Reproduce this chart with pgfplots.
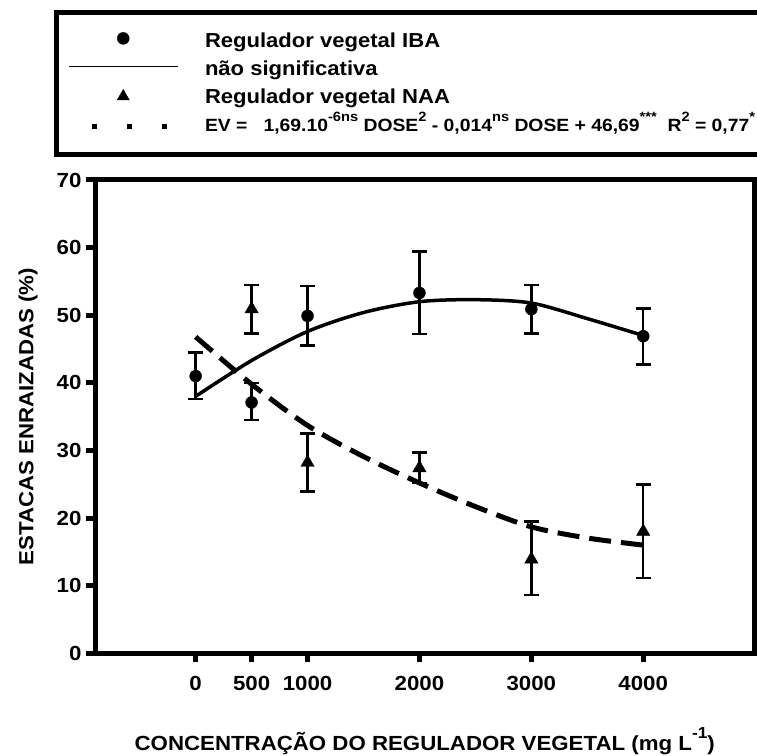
\documentclass[border=0pt]{standalone}
\usepackage{fontspec}
\setmainfont{Liberation Sans}[FakeStretch=1.09]
\usepackage{pgfplots}
\pgfplotsset{compat=1.18}
\newcommand{\sups}[1]{\raisebox{0.55em}{\fontsize{13.5}{13.5}\selectfont #1}}
\begin{document}
\begin{tikzpicture}[x=1bp,y=1bp]
\begin{axis}[
  at={(95.5bp,102.7bp)}, anchor=south west,
  scale only axis, width=658.5bp, height=473.3bp,
  xmin=-895, xmax=4990, ymin=0, ymax=70,
  xtick={0,500,1000,2000,3000,4000},
  ytick={0,10,20,30,40,50,60,70},
  tick pos=left, tick align=outside, major tick length=9bp,
  tick style={line width=5bp, black},
  axis line style={line width=5bp, line cap=rect},
  scaled ticks=false,
  /pgf/number format/.cd, set thousands separator={}, assume math mode=true, /pgfplots/.cd,
  tick label style={font=\fontsize{20.5}{24}\selectfont\bfseries},
  xticklabel style={yshift=-10bp},
  yticklabel style={xshift=-1.5bp},
  label style={font=\fontsize{20.5}{24}\selectfont\bfseries},
  xlabel={CONCENTRAÇÃO DO REGULADOR VEGETAL (mg L\raisebox{0.6em}{\fontsize{16}{16}\selectfont -1})},
  ylabel={ESTACAS ENRAIZADAS (\%)},
  xlabel style={at={(axis description cs:0.5,-0.2059)}, anchor=base},
  ylabel style={at={(axis description cs:-0.09446,0.5)}, anchor=base},
  legend cell align=left,
  legend style={at={(axis description cs:-0.04176,1.3123)}, anchor=north west,
    draw=none, fill=none, inner sep=0pt, outer sep=0pt,
    row sep=9.2bp, column sep=26.5bp,
    font=\fontsize{20.3}{24}\selectfont\bfseries,
    nodes={inner sep=0pt, outer sep=0pt, text height=14.5bp, text depth=4.3bp}},
]
% legend entries
\addlegendimage{legend image code/.code={\path[draw=none,fill=none] (0bp,0bp) -- (109bp,0bp); \fill[black] (54.5bp,3.6bp) circle (6bp);}}
\addlegendentry{Regulador vegetal IBA}
\addlegendimage{legend image code/.code={\draw[black, line width=1.5bp] (0bp,3.6bp) -- (109bp,3.6bp);}}
\addlegendentry{não significativa}
\addlegendimage{legend image code/.code={\path[draw=none,fill=none] (0bp,0bp) -- (109bp,0bp); \fill[black] (48.5bp,-1.9bp) -- (60.5bp,-1.9bp) -- (54.5bp,8.5bp) -- cycle;}}
\addlegendentry{Regulador vegetal NAA}
\addlegendimage{legend image code/.code={\path[draw=none,fill=none] (0bp,0bp) -- (109bp,0bp); \draw[black, line width=5bp, dash pattern=on 5bp off 30bp] (23.5bp,-0.4bp) -- (100bp,-0.4bp);}}
\addlegendentry{\fontsize{17.8}{20}\selectfont EV = \ \ 1,69.10\sups{-6ns} DOSE\sups{2} - 0,014\sups{ns} DOSE + 46,69\sups{***} \ R\sups{2} = 0,77\sups{*}}

% fitted curves
\addplot[black, line width=3.5bp, smooth, forget plot] coordinates {
 (0,38.0) (500,43.3) (1000,47.6) (1500,50.4) (2000,52.0) (2500,52.3) (3000,51.8) (3500,49.5) (4000,47.0)};
\addplot[black, line width=5bp, dash pattern=on 22bp off 10bp, smooth, forget plot] coordinates {
 (0,46.8) (500,39.8) (1000,33.7) (1500,29.1) (2000,25.2) (2500,21.7) (3000,18.7) (3500,17.05) (4000,16.0)};

% IBA data
\addplot[black, only marks, mark=*, mark size=6bp, forget plot,
  error bars/.cd, y dir=both, y explicit,
  error bar style={line width=2.5bp, black},
  error mark options={rotate=90, line width=2.5bp, mark size=7.3bp, black}]
  table[x=x, y=y, y error plus=ep, y error minus=em] {
x y ep em
0 41.0 3.5 3.4
500 37.1 2.9 2.6
1000 49.9 4.4 4.4
2000 53.3 6.1 6.1
3000 50.9 3.6 3.6
4000 46.9 4.1 4.2
};
% NAA data
\addplot[black, only marks, mark=triangle*, mark size=7.7bp, forget plot,
  error bars/.cd, y dir=both, y explicit,
  error bar style={line width=2.5bp, black},
  error mark options={rotate=90, line width=2.5bp, mark size=7.3bp, black}]
  table[x=x, y=y, y error plus=ep, y error minus=em] {
x y ep em
500 50.9 3.6 3.6
1000 28.2 4.3 4.3
2000 27.4 2.3 2.2
3000 13.9 5.6 5.3
4000 18.0 7.0 6.9
};
\end{axis}
\draw[line width=5bp] (56,601.5) rectangle (820,743.5);
\pgfresetboundingbox
\useasboundingbox (0,0) rectangle (757,756);
\end{tikzpicture}
\end{document}
